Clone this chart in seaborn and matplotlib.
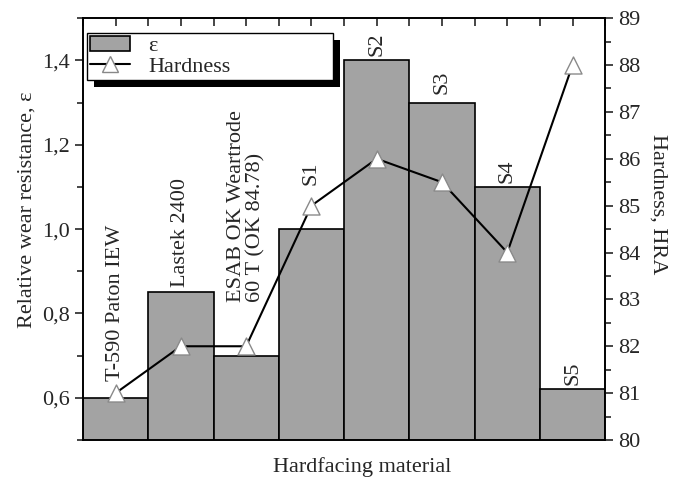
import numpy as np
import pandas as pd
import matplotlib
matplotlib.use("Agg")
import matplotlib.pyplot as plt
import seaborn as sns
from matplotlib.ticker import MultipleLocator, FuncFormatter
from matplotlib.patches import Patch, Rectangle
from matplotlib.lines import Line2D

# data
materials = ["T-590 Paton IEW", "Lastek 2400", "ESAB OK Weartrode\n60 T (OK 84.78)",
             "S1", "S2", "S3", "S4", "S5"]
wear = [0.60, 0.85, 0.70, 1.00, 1.40, 1.30, 1.10, 0.62]
hardness = [81.0, 82.0, 82.0, 85.0, 86.0, 85.5, 84.0, 88.0]

df = pd.DataFrame({"material": materials, "wear": wear, "hardness": hardness})
df["pos"] = np.arange(len(df))

sns.set_style("white")
plt.rcParams["font.family"] = ["Liberation Serif", "DejaVu Serif"]
FS = 16

fig = plt.figure(figsize=(6.8, 4.78), dpi=100)
ax = fig.add_axes([0.122, 0.0795, 0.768, 0.8825])

sns.barplot(data=df, x="material", y="wear", ax=ax, width=1.0,
            color="#a3a3a3", edgecolor="black", linewidth=1.2, saturation=1)
ax.set_xlim(-0.5, len(df) - 0.5)
ax.set_ylim(0.5, 1.5)

ax2 = ax.twinx()
sns.lineplot(data=df, x="pos", y="hardness", ax=ax2, color="black", lw=1.5)
sns.scatterplot(data=df, x="pos", y="hardness", ax=ax2, marker="^", s=150,
                color="white", edgecolor="#8a8a8a", linewidth=1.0, zorder=5)
ax2.set_ylim(80, 89)
ax.set_xlim(-0.5, len(df) - 0.5)

# labels over the bars (rotated), placed above bar or marker
offsets = [9, 4, 32, 15, 3, 6, 3, 3]
for i, row in df.iterrows():
    h_eq = 0.5 + (row["hardness"] - 80) / 9.0
    top = row["wear"] if i in (1, 4, 5, 6, 7) else max(row["wear"], h_eq)
    ax.annotate(row["material"], (i, top), xytext=(0, offsets[i]),
                textcoords="offset points", rotation=90, ha="center",
                va="bottom", fontsize=FS, multialignment="left",
                linespacing=1.0)

# axes styling
for a in (ax, ax2):
    for s in a.spines.values():
        s.set_color("black")
        s.set_linewidth(1.2)

ax.yaxis.set_major_locator(MultipleLocator(0.2))
ax.yaxis.set_minor_locator(MultipleLocator(0.1))
ax.yaxis.set_major_formatter(FuncFormatter(lambda v, p: f"{v:.1f}".replace(".", ",")))
ax.tick_params(axis="y", which="both", direction="out", left=True, labelsize=FS,
               width=1.2)
ax.tick_params(axis="y", which="major", length=6)
ax.tick_params(axis="y", which="minor", length=4)

ax.set_xticks(np.arange(len(df)))
ax.set_xticks(np.arange(len(df) + 1) - 0.5, minor=True)
ax.tick_params(axis="x", which="both", bottom=False, top=True, direction="in",
               labelbottom=False, length=6, width=1.2)

ax2.yaxis.set_major_locator(MultipleLocator(1))
ax2.yaxis.set_minor_locator(MultipleLocator(0.5))
ax2.tick_params(axis="y", which="both", direction="out", right=True, labelsize=FS,
                width=1.2)
ax2.tick_params(axis="y", which="major", length=6)
ax2.tick_params(axis="y", which="minor", length=4)
ax2.set_xlabel("")

ax.set_xlabel("Hardfacing material", fontsize=FS)
ax.xaxis.set_label_coords(0.534, -0.04)
ax.set_ylabel("Relative wear resistance, ε", fontsize=FS, labelpad=4)
ax.yaxis.label.set_y(0.547)
ax2.set_ylabel("Hardness, HRA", fontsize=FS, rotation=270, labelpad=19)
ax2.yaxis.label.set_y(0.56)

handles = [Patch(facecolor="#a3a3a3", edgecolor="black", linewidth=1.2),
           Line2D([], [], color="black", lw=1.5, marker="^", markersize=12,
                  markerfacecolor="white", markeredgecolor="#888888")]
leg = ax2.legend(handles, ["ε", "Hardness"], loc="upper left",
                 bbox_to_anchor=(0.008, 0.966, 0.47, 0.0), mode="expand",
                 fontsize=FS, frameon=True, fancybox=False, framealpha=1.0,
                 borderpad=0.15, labelspacing=0.0, borderaxespad=0.0,
                 handlelength=1.8, handletextpad=0.8)
leg.get_frame().set_edgecolor("black")
leg.get_frame().set_facecolor("white")
leg.get_frame().set_linewidth(1.0)
leg.set_zorder(10)

# heavy black drop shadow under the legend box
fig.canvas.draw()
bb = leg.get_frame().get_window_extent()
ax2.add_patch(Rectangle((bb.x0 + 7, bb.y0 - 7), bb.width, bb.height,
                        transform=None, facecolor="black", edgecolor="none",
                        zorder=9, clip_on=False))

fig.savefig("out.png", dpi=100, facecolor="white")
